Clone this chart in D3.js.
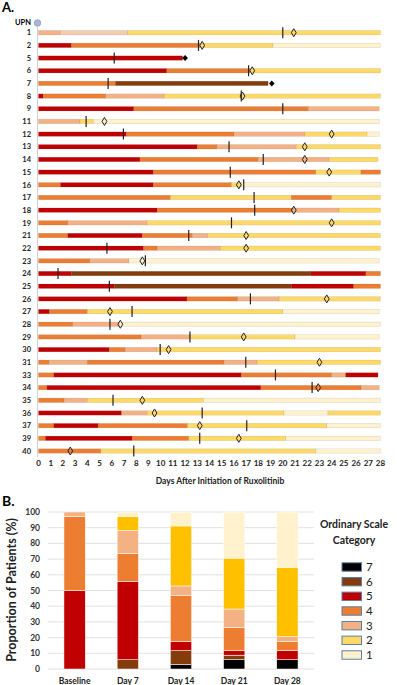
<!DOCTYPE html>
<html><head><meta charset="utf-8">
<script src="https://cdn.jsdelivr.net/npm/d3@7"></script>
<style>body{margin:0;background:#fff}svg{display:block;font-family:Lato,"Open Sans",sans-serif}</style>
</head><body><svg id="c" width="397" height="685"></svg>
<script>
// ---------- Panel A data ----------
const upn = ["1","2","5","6","7","8","9","11","12","13","14","15","16","17","18","19","21","22","23","24","25","26","27","28","29","30","31","33","34","35","36","37","39","40"];
// each row: list of [category, endDay]; segment starts where previous one ended (first at day 0)
const stateChanges = [
  [["3",1.8],["3p",7.3],["2",28]],
  [["5",2.7],["4",13.2],["2",19.2],["1",28]],
  [["5",11.8]],
  [["5",10.5],["4",17.3],["2",28]],
  [["4",6.3],["6",18.8]],
  [["5",0.4],["4",5.5],["3",10.3],["2",28]],
  [["5",7.8],["4",22.1],["3",27.9]],
  [["3",3.4],["2",4.5],["1",27.9]],
  [["5",7.2],["4",16.0],["3",21.8],["2",26.9],["1",27.9]],
  [["5",13.0],["4",14.6],["3",21.1],["2",28]],
  [["5",8.3],["4",18.0],["3",23.8],["2",27.8]],
  [["5",9.4],["4",22.7],["2",26.4],["4",28]],
  [["4",1.8],["5",9.4],["4",15.8],["2",16.6],["1",28]],
  [["4",10.8],["2",20.7],["4",24.0],["2",28]],
  [["5",9.7],["4",20.8],["3",24.6],["2",28]],
  [["4",2.4],["3",8.9],["2",28]],
  [["4",2.4],["5",8.5],["4",12.6],["3",13.85],["2",28]],
  [["5",8.6],["4",9.7],["3",14.9],["2",28]],
  [["4",4.2],["3",7.4],["1",27.9]],
  [["5",2.7],["6",22.3],["5",26.8],["4",28]],
  [["5",6.2],["6",20.7],["5",25.8],["4",28]],
  [["5",12.15],["4",16.3],["3",19.7],["2",28]],
  [["5",0.9],["4",4.0],["2",20.0],["1",27.9]],
  [["4",2.8],["3",6.6],["1",28]],
  [["4",8.4],["3",12.4],["2",21.0],["1",27.9]],
  [["5",5.8],["4",7.1],["3",9.7],["2",28]],
  [["4",0.85],["3",4.0],["4",15.2],["3",17.9],["2",28]],
  [["4",1.26],["5",16.6],["4",24.0],["3",25.15],["5",27.8]],
  [["4",0.7],["5",18.2],["4",26.4],["3",27.9]],
  [["4",2.1],["3",4.0],["2",13.5],["1",28]],
  [["5",6.8],["3",8.9],["2",20.1],["1",23.7],["2",28]],
  [["4",1.26],["5",4.9],["4",12.2],["2",23.6],["1",28]],
  [["4",0.57],["5",7.66],["4",12.3],["2",20.25],["1",28]],
  [["4",5.1],["2",22.7],["1",28]]
];
const tickDay = [20.0,13.1,6.2,17.2,5.7,16.6,20.0,3.9,6.95,15.6,18.4,15.7,16.8,17.65,17.7,15.8,12.3,5.6,8.75,1.6,5.8,17.35,7.66,5.85,12.4,9.96,16.97,19.4,22.4,6.1,13.4,17.05,13.2,7.8];
const openDiamondDay = [20.9,13.4,null,17.5,null,16.7,null,5.4,24.0,21.8,21.8,23.8,16.4,null,20.9,24.0,17.0,17.0,8.5,null,null,23.6,5.85,6.7,16.8,10.65,23.0,null,22.9,8.5,9.5,13.2,16.4,2.6];
const deathDay = [null,null,12.0,null,19.1,null,null,null,null,null,null,null,null,null,null,null,null,null,null,null,null,null,null,null,null,null,null,null,null,null,null,null,null,null];
const dayTicks = d3.range(0,29);

// ---------- Panel B data ----------
const timepoints = ["Baseline","Day 7","Day 14","Day 21","Day 28"];
const categories = ["7","6","5","4","3","2","1"];
const pct7 = [0, 0, 2.9, 5.9, 5.9];
const pct6 = [0, 5.9, 8.8, 2.9, 0];
const pct5 = [50, 50, 5.9, 2.9, 5.9];
const pct4 = [47.1, 17.6, 29.4, 14.7, 5.9];
const pct3 = [2.9, 14.7, 5.9, 11.8, 2.9];
const pct2 = [0, 8.8, 38.2, 32.4, 44.1];
const pct1 = [0, 2.9, 8.8, 29.4, 35.3];
const yTicks = d3.range(0,101,10);

const colA = {"7":"#000000","6":"#843c0c","5":"#c00000","4":"#ed7d31","3":"#f4b183","3p":"#f8cbad","2":"#ffd966","1":"#fff2cc"};
const colB = {"7":"#000000","6":"#843c0c","5":"#c00000","4":"#ed7d31","3":"#f4b183","2":"#ffc000","1":"#fff2cc"};
const colLegend = {"7":"#000000","6":"#843c0c","5":"#c00000","4":"#ed7d31","3":"#f4b183","2":"#ffd966","1":"#fff2cc"};

const svg = d3.select("#c");

// ===== Panel A =====
svg.append("text").attr("x",2).attr("y",12).attr("font-size",13).attr("font-weight",700).text("A.");
const x = d3.scaleLinear().domain([0,28]).range([38.5,380.5]);
const y = d3.scalePoint().domain(upn).range([32.7,451]);

svg.append("line").attr("x1",37.5).attr("x2",37.5).attr("y1",27).attr("y2",457).attr("stroke","#d0d0d0").attr("stroke-width",1);
svg.append("text").attr("x",31).attr("y",25).attr("text-anchor","end").attr("font-size",7.5).attr("font-weight",700).text("UPN");
svg.append("circle").attr("cx",37.5).attr("cy",23).attr("r",3.3).attr("fill","#a9b8d8").attr("stroke","#8497b0").attr("stroke-width",0.7);

const rows = svg.append("g");
upn.forEach((u,i)=>{
  const g = rows.append("g");
  const yy = y(u);
  g.append("text").attr("x",31).attr("y",yy+2.7).attr("text-anchor","end").attr("font-size",7.5).attr("font-weight",700).attr("fill","#222").text(u);
  let start = 0;
  stateChanges[i].forEach(([cat,end])=>{
    g.append("rect").attr("x",x(start)).attr("width",Math.max(0,x(end)-x(start))).attr("y",yy-2.2).attr("height",4.4)
      .attr("fill",colA[cat]).attr("stroke","rgba(0,0,0,0.13)").attr("stroke-width",0.6);
    start = end;
  });
  if(tickDay[i]!=null){
    g.append("line").attr("x1",x(tickDay[i])).attr("x2",x(tickDay[i])).attr("y1",yy-5.5).attr("y2",yy+5.5).attr("stroke","#222").attr("stroke-width",1.2);
  }
  if(openDiamondDay[i]!=null){
    const cx = x(openDiamondDay[i]);
    g.append("path").attr("d",`M${cx},${yy-4}L${cx+2.4},${yy}L${cx},${yy+4}L${cx-2.4},${yy}Z`).attr("fill","none").attr("stroke","#222").attr("stroke-width",1);
  }
  if(deathDay[i]!=null){
    const cx = x(deathDay[i]);
    g.append("path").attr("d",`M${cx},${yy-3}L${cx+2.8},${yy}L${cx},${yy+3}L${cx-2.8},${yy}Z`).attr("fill","#000");
  }
});

svg.append("g").selectAll("text").data(dayTicks).join("text")
  .attr("x",d=>x(d)).attr("y",466).attr("text-anchor","middle").attr("font-size",8).attr("font-weight",700).attr("fill","#222").text(d=>d);
svg.append("text").attr("x",220).attr("y",484).attr("text-anchor","middle").attr("font-size",8.5).attr("font-weight",700).attr("fill","#222").text("Days After Initiation of Ruxolitinib");

// ===== Panel B =====
svg.append("text").attr("x",2).attr("y",506).attr("font-size",14).attr("font-weight",700).text("B.");
const xb = d3.scaleBand().domain(timepoints).range([48,314]).paddingInner(0.6).paddingOuter(0.3);
const yb = d3.scaleLinear().domain([0,100]).range([669,512]);

svg.append("g").selectAll("line").data(yTicks).join("line")
  .attr("x1",48).attr("x2",314).attr("y1",d=>yb(d)).attr("y2",d=>yb(d)).attr("stroke","#d9d9d9").attr("stroke-width",0.8);
svg.append("g").selectAll("text").data(yTicks).join("text")
  .attr("x",40).attr("y",d=>yb(d)+3).attr("text-anchor","end").attr("font-size",8.5).attr("font-weight",700).attr("fill","#333").text(d=>d);
svg.append("text").attr("transform","translate(16,590) rotate(-90)").attr("text-anchor","middle").attr("font-size",12.5).attr("font-weight",700).attr("fill","#222").text("Proportion of Patients (%)");

const tableB = timepoints.map((t,i)=>({t, "7":pct7[i],"6":pct6[i],"5":pct5[i],"4":pct4[i],"3":pct3[i],"2":pct2[i],"1":pct1[i]}));
const stacked = d3.stack().keys(categories)(tableB);
svg.append("g").selectAll("g").data(stacked).join("g").attr("fill",s=>colB[s.key])
  .selectAll("rect").data(s=>s).join("rect")
  .attr("x",d=>xb(d.data.t)).attr("width",xb.bandwidth())
  .attr("y",d=>yb(d[1])).attr("height",d=>Math.max(0,yb(d[0])-yb(d[1])))
  .attr("stroke","#fff").attr("stroke-width",0.5);

svg.append("g").selectAll("text").data(timepoints).join("text")
  .attr("x",d=>xb(d)+xb.bandwidth()/2).attr("y",684).attr("text-anchor","middle").attr("font-size",8.5).attr("font-weight",700).attr("fill","#222").text(d=>d);

// legend
svg.append("text").attr("x",354).attr("y",528).attr("text-anchor","middle").attr("font-size",10.5).attr("font-weight",700).attr("fill","#222").text("Ordinary Scale");
svg.append("text").attr("x",354).attr("y",544).attr("text-anchor","middle").attr("font-size",10.5).attr("font-weight",700).attr("fill","#222").text("Category");
const ly = d3.scalePoint().domain(categories).range([567,655]);
const lg = svg.append("g").selectAll("g").data(categories).join("g");
lg.append("rect").attr("x",342).attr("y",d=>ly(d)-4.2).attr("width",19.5).attr("height",8.4)
  .attr("fill",d=>colLegend[d]).attr("stroke","#5b7fa8").attr("stroke-width",1);
lg.append("text").attr("x",366).attr("y",d=>ly(d)+4).attr("font-size",11.5).attr("fill","#222").text(d=>d);
</script></body></html>
